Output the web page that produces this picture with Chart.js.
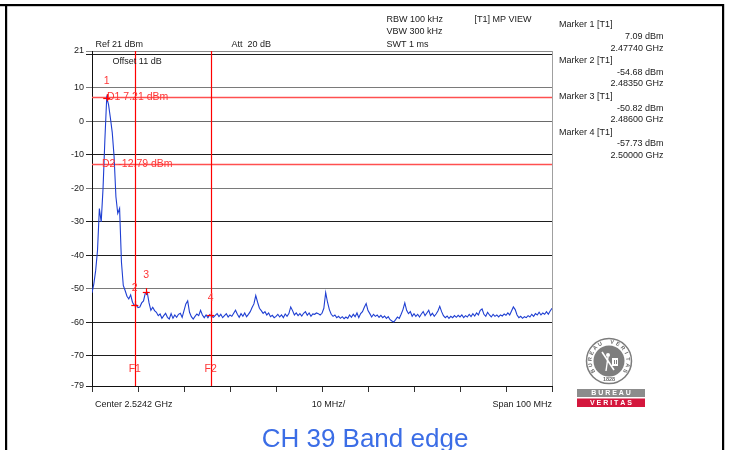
<!DOCTYPE html>
<html><head><meta charset="utf-8">
<script src="https://cdn.jsdelivr.net/npm/chart.js@4/dist/chart.umd.min.js"></script>
<style>html,body{margin:0;padding:0;background:#fff;overflow:hidden}#wrap{position:relative;width:733px;height:450px}</style>
</head><body><div id="wrap"><canvas id="c" width="733" height="450"></canvas></div>
<script>
// ---- data ----
const FREQ_START_MHZ = 2474.2;   // Center 2.5242 GHz - 50 MHz
const FREQ_STEP_MHZ = 0.4;       // sweep point spacing
const traceDbm = [
 -51.2,-48.5,-44.5,-38.5,-26,-30,-20,-5.5,7.09,5.0,
 1.0,-3.3,-10.5,-22.5,-27.5,-26,-42,-49,-50.5,-52.2,
 -53,-51.8,-54,-55,-54.8,-55.6,-55.4,-54.2,-53.6,-51.2,
 -51.0,-54.2,-56.4,-55.5,-56.5,-57,-58,-57.5,-58.8,-58,
 -57.3,-58.5,-59,-57.4,-58.8,-57.8,-58.5,-57.6,-57.3,-58.5,
 -56.5,-54.5,-53.6,-57,-58.3,-59,-58.2,-57.5,-58,-56.4,
 -57.8,-58.6,-57.8,-58.6,-57.7,-58.2,-58.5,-57.9,-57.4,-58.3,
 -57.6,-58.6,-58,-57.4,-58.4,-57.8,-58.2,-57.3,-56.4,-57.6,
 -58.5,-57.4,-58.2,-57.2,-58.3,-57.6,-56.8,-55.6,-54.5,-52,
 -54,-55.8,-56.5,-57.3,-56.8,-57.8,-57.2,-58.3,-57.9,-58.6,
 -58.2,-57.6,-58.4,-57.8,-58.6,-57.5,-58.2,-57.4,-55.4,-56.5,
 -57.8,-57.2,-58,-57.4,-58.1,-57.3,-56.8,-57.9,-57.2,-58.2,
 -57.5,-57.6,-57.2,-57.4,-57.8,-57.3,-55.8,-51.1,-54,-56.2,
 -57.6,-58.2,-57.8,-58.6,-58.2,-58.8,-58.3,-58.9,-58.4,-58.8,
 -57.8,-58.5,-57.6,-58.3,-57.2,-58.6,-57.4,-56.8,-55.5,-54.4,
 -56.5,-57.4,-58.4,-57.6,-58.2,-57.8,-58.5,-57.9,-58.6,-58.1,
 -58.8,-58.3,-59.2,-59.6,-59.9,-59.2,-58.4,-58.8,-57.6,-56.2,
 -54.2,-56.4,-57.4,-56.8,-58.2,-57.4,-58.2,-57.6,-58.4,-57.5,
 -56.8,-58,-57.2,-56.4,-58,-57.3,-58.2,-57.5,-56.6,-55.2,
 -56.8,-58,-58.6,-58.1,-58.8,-58.2,-58.6,-58.0,-58.5,-57.9,
 -58.4,-57.8,-58.6,-58.0,-58.4,-57.6,-58.3,-57.4,-58.1,-57.2,
 -57.8,-56.4,-56.0,-57.6,-58.2,-57.0,-57.8,-58.4,-57.6,-58.2,
 -57.8,-58.4,-57.8,-58.1,-57.5,-57.9,-57.2,-57.8,-56.6,-55.4,
 -56.2,-57.8,-58.6,-58.2,-58.8,-58.3,-58.6,-58.0,-58.4,-57.6,
 -58.2,-57.4,-57.8,-57.0,-57.8,-57.2,-57.6,-56.8,-57.6,-56.6,
 -55.8
];
const xTickMHz = [2474.2,2484.2,2494.2,2504.2,2514.2,2524.2,2534.2,2544.2,2554.2,2564.2,2574.2];
const yTickValues = [21,20,10,0,-10,-20,-30,-40,-50,-60,-70,-79];
const yTickLabels = ['21','','10','0','-10','-20','-30','-40','-50','-60','-70','-79'];
const yGridColors = ['#8a8a8a','#1e1e1e','#7a7a7a','#6a6a6a','#1e1e1e','#7a7a7a','#1e1e1e','#1e1e1e','#7a7a7a','#1e1e1e','#1e1e1e','#1e1e1e'];
const markerNames = ['1','2','3','4'];
const markerFreqGHz = [2.47740,2.48350,2.48600,2.50000];
const markerDbm = [7.09,-54.68,-50.82,-57.73];
const displayLineNames = ['D1','D2'];
const displayLineDbm = [7.21,-12.79];
const freqLineNames = ['F1','F2'];
const freqLineMHz = [2483.5,2500];
const headerLeft = ['Ref 21 dBm','Att  20 dB','Offset 11 dB'];
const headerRight = ['RBW 100 kHz','VBW 300 kHz','SWT 1 ms','[T1] MP VIEW'];
const footer = ['Center 2.5242 GHz','10 MHz/','Span 100 MHz'];
const title = 'CH 39 Band edge';

// ---- helpers ----
const FF = '"Liberation Sans", Arial, sans-serif';
const points = traceDbm.map((v,i)=>({x: FREQ_START_MHZ + i*FREQ_STEP_MHZ, y: v}));

function txt(ctx, s, x, y, font, color, align, baseline){
  ctx.font = font; ctx.fillStyle = color; ctx.textAlign = align||'left'; ctx.textBaseline = baseline||'middle';
  ctx.fillText(s, x, y);
}
function seg(ctx, x1,y1,x2,y2,color,w){
  ctx.strokeStyle = color; ctx.lineWidth = w||1;
  ctx.beginPath(); ctx.moveTo(x1,y1); ctx.lineTo(x2,y2); ctx.stroke();
}
function drawLogo(ctx){
  const cx = 609, cy = 361, R = 22.5;
  ctx.save();
  ctx.strokeStyle = '#7c7c7c'; ctx.lineWidth = 1.5;
  ctx.beginPath(); ctx.arc(cx, cy, R, 0, Math.PI*2); ctx.stroke();
  ctx.fillStyle = '#7e7e7e';
  ctx.beginPath(); ctx.arc(cx, cy, R-7, 0, Math.PI*2); ctx.fill();
  const word = 'BUREAU VERITAS';
  const span = Math.PI*1.35, start = -Math.PI/2 - span/2;
  ctx.font = 'bold 5.5px ' + FF; ctx.fillStyle = '#6a6a6a'; ctx.textAlign='center'; ctx.textBaseline='middle';
  for (let i=0;i<word.length;i++){
    const a = start + span*i/(word.length-1);
    ctx.save(); ctx.translate(cx+(R-3.6)*Math.cos(a), cy+(R-3.6)*Math.sin(a)); ctx.rotate(a+Math.PI/2);
    ctx.fillText(word[i],0,0); ctx.restore();
  }
  ctx.fillText('1828', cx, cy+R-3.6);
  seg(ctx, cx-7, cy-9, cx+5, cy+9, '#ffffff', 1.6);
  seg(ctx, cx-1, cy-4, cx-3, cy+10, '#ffffff', 1.4);
  ctx.fillStyle = '#ffffff';
  ctx.beginPath(); ctx.arc(cx-1, cy-6, 2, 0, Math.PI*2); ctx.fill();
  ctx.fillRect(cx+3, cy-3, 6, 8);
  ctx.fillStyle = '#7e7e7e'; ctx.fillRect(cx+5, cy-1, 1, 4); ctx.fillRect(cx+7, cy-1, 1, 4);
  ctx.fillStyle = '#8c8c8c'; ctx.fillRect(577, 389, 68, 8);
  ctx.fillStyle = '#d4173d'; ctx.fillRect(577, 398.5, 68, 8.5);
  txt(ctx, 'B U R E A U', 611, 393.3, 'bold 7px '+FF, '#ffffff', 'center');
  txt(ctx, 'V E R I T A S', 611, 403, 'bold 7px '+FF, '#ffffff', 'center');
  ctx.restore();
}

const annot = {
  id: 'annot',
  beforeDatasetsDraw(chart){
    const {ctx, chartArea:a, scales:{x,y}} = chart;
    ctx.save();
    seg(ctx, Math.round(a.right)+0.5, a.top, Math.round(a.right)+0.5, a.bottom, '#a0a0a0', 1);
    displayLineDbm.forEach(v=>{
      const py = Math.round(y.getPixelForValue(v))+0.5;
      seg(ctx, a.left, py, a.right, py, '#ff5050', 1.4);
    });
    ctx.restore();
  },
  afterDatasetsDraw(chart){
    const {ctx, chartArea:a, scales:{x,y}} = chart;
    ctx.save();
    const red = '#ff3636';
    freqLineMHz.forEach(f=>{
      const px = Math.round(x.getPixelForValue(f))+0.5;
      seg(ctx, px, a.top, px, a.bottom, '#ff0000', 1.2);
    });
    const dOff = [15, 10];
    displayLineDbm.forEach((v,i)=>{
      const py = y.getPixelForValue(v);
      txt(ctx, displayLineNames[i]+' '+v.toFixed(2)+' dBm', a.left+dOff[i], py+2.5, '10.5px '+FF, red, 'left', 'alphabetic');
    });
    freqLineMHz.forEach((f,i)=>{
      txt(ctx, freqLineNames[i], x.getPixelForValue(f), a.bottom-16.5, '10.5px '+FF, red, 'center', 'middle');
    });
    markerFreqGHz.forEach((g,i)=>{
      const px = x.getPixelForValue(g*1000), py = y.getPixelForValue(markerDbm[i]);
      seg(ctx, px-3.5, Math.round(py)+0.5, px+3.5, Math.round(py)+0.5, '#ff0000', 1.2);
      seg(ctx, Math.round(px)+0.5, py-3.5, Math.round(px)+0.5, py+3.5, '#ff0000', 1.2);
      txt(ctx, markerNames[i], px, py-16.5, '10.5px '+FF, red, 'center', 'middle');
    });
    ctx.restore();
  },
  afterDraw(chart){
    const {ctx, chartArea:a} = chart;
    ctx.save();
    const f9 = '9px '+FF, dark = '#1a1a1a';
    txt(ctx, headerLeft[0], 95.5, 45, f9, dark);
    txt(ctx, headerLeft[1], 231.5, 45, f9, dark);
    txt(ctx, headerLeft[2], 112.5, 61.5, f9, dark);
    txt(ctx, headerRight[0], 386.5, 19.5, f9, dark);
    txt(ctx, headerRight[1], 386.5, 32, f9, dark);
    txt(ctx, headerRight[2], 386.5, 44.5, f9, dark);
    txt(ctx, headerRight[3], 474.5, 19.5, f9, dark);
    markerNames.forEach((n,i)=>{
      const y0 = 25 + i*35.8;
      txt(ctx, 'Marker '+n+' [T1]', 559, y0, f9, dark);
      txt(ctx, markerDbm[i].toFixed(2)+' dBm', 663.5, y0+11.6, f9, dark, 'right');
      txt(ctx, markerFreqGHz[i].toFixed(5)+' GHz', 663.5, y0+23.2, f9, dark, 'right');
    });
    txt(ctx, footer[0], 95, 404.5, f9, dark);
    txt(ctx, footer[1], 328.5, 404.5, f9, dark, 'center');
    txt(ctx, footer[2], a.right, 404.5, f9, dark, 'right');
    txt(ctx, title, 365, 447, '26px '+FF, '#3b6de6', 'center', 'alphabetic');
    ctx.fillStyle = '#000';
    ctx.fillRect(0, 4, 724, 2.2);
    ctx.fillRect(5, 4, 2.2, 446);
    ctx.fillRect(722, 4, 2.2, 446);
    drawLogo(ctx);
    ctx.restore();
  }
};

new Chart(document.getElementById('c'), {
  type: 'line',
  data: { datasets: [{ data: points, borderColor: '#1f3fd2', borderWidth: 1.1, pointRadius: 0, tension: 0, fill: false }] },
  options: {
    responsive: false, animation: false, devicePixelRatio: 1,
    layout: { padding: { left: 0, top: 51, right: 181, bottom: 0 } },
    plugins: { legend: { display: false }, tooltip: { enabled: false } },
    scales: {
      x: {
        type: 'linear', min: xTickMHz[0], max: xTickMHz[xTickMHz.length-1],
        afterBuildTicks: s => { s.ticks = xTickMHz.map(v=>({value:v})); },
        afterFit: s => { s.height = 64; },
        ticks: { autoSkip: false, callback: () => '', maxRotation: 0 },
        grid: { drawOnChartArea: false, drawTicks: true, tickLength: 6, color: '#333' },
        border: { display: true, color: '#111', width: 1 }
      },
      y: {
        type: 'linear', min: -79, max: 21,
        afterBuildTicks: s => { s.ticks = yTickValues.map(v=>({value:v})); },
        afterFit: s => { s.width = 92; },
        ticks: { autoSkip: false, padding: 2, color: '#1a1a1a', font: { family: FF, size: 9 },
          callback: (v) => { const i = yTickValues.indexOf(v); return i >= 0 ? yTickLabels[i] : ''; } },
        grid: { drawTicks: true, tickLength: 6, lineWidth: 1,
          color: c => { const i = c.tick ? yTickValues.indexOf(c.tick.value) : -1; return i >= 0 ? yGridColors[i] : '#1e1e1e'; } },
        border: { display: true, color: '#111', width: 1 }
      }
    }
  },
  plugins: [annot]
});
</script></body></html>
